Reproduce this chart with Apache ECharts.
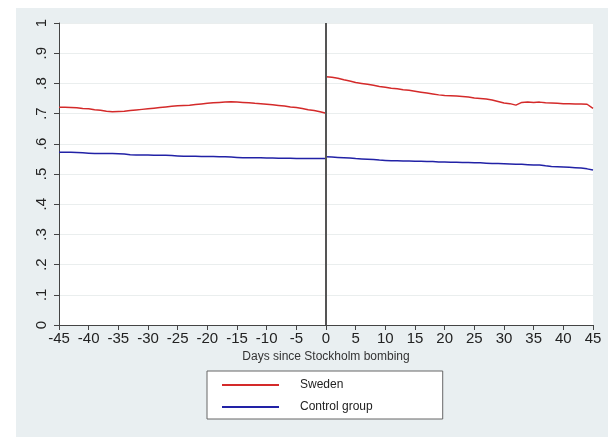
<!DOCTYPE html>
<html>
<head>
<meta charset="utf-8">
<script src="https://cdn.jsdelivr.net/npm/echarts@6/dist/echarts.min.js"></script>
<style>
  html, body { margin: 0; padding: 0; background: #ffffff; }
  #wrap { position: relative; width: 611px; height: 437px; overflow: hidden; background: #ffffff; }
  #panel { position: absolute; left: 16px; top: 8px; width: 592px; height: 429px; background: #e9eff1; }
  #chart { position: absolute; left: 0; top: 0; width: 611px; height: 437px; }
</style>
</head>
<body>
<div id="wrap">
  <div id="panel"></div>
  <div id="chart"></div>
</div>
<script>
// Days relative to the event
const daysPre = [-45,-44,-43,-42,-41,-40,-39,-38,-37,-36,-35,-34,-33,-32,-31,-30,-29,-28,-27,-26,-25,-24,-23,-22,-21,-20,-19,-18,-17,-16,-15,-14,-13,-12,-11,-10,-9,-8,-7,-6,-5,-4,-3,-2,-1,0];
const daysPost = [0,1,2,3,4,5,6,7,8,9,10,11,12,13,14,15,16,17,18,19,20,21,22,23,24,25,26,27,28,29,30,31,32,33,34,35,36,37,38,39,40,41,42,43,44,45];

// Sweden, before and after
const swedenPre = [0.721,0.721,0.720,0.719,0.717,0.716,0.713,0.711,0.708,0.706,0.707,0.708,0.710,0.712,0.714,0.716,0.718,0.720,0.722,0.724,0.726,0.727,0.728,0.730,0.732,0.734,0.736,0.737,0.738,0.739,0.738,0.737,0.736,0.734,0.733,0.731,0.729,0.727,0.725,0.722,0.720,0.717,0.713,0.710,0.706,0.701];
const swedenPost = [0.822,0.820,0.817,0.812,0.808,0.803,0.800,0.797,0.794,0.790,0.787,0.784,0.782,0.779,0.777,0.774,0.771,0.768,0.765,0.762,0.760,0.759,0.758,0.757,0.755,0.752,0.750,0.748,0.745,0.740,0.735,0.733,0.728,0.737,0.738,0.737,0.738,0.736,0.735,0.734,0.733,0.733,0.732,0.732,0.731,0.717];

// Control group, before and after
const controlPre = [0.572,0.572,0.572,0.571,0.570,0.569,0.568,0.568,0.568,0.568,0.567,0.566,0.564,0.563,0.563,0.563,0.562,0.562,0.562,0.561,0.560,0.559,0.559,0.559,0.558,0.558,0.558,0.557,0.557,0.556,0.555,0.554,0.554,0.554,0.554,0.553,0.553,0.552,0.552,0.552,0.551,0.551,0.551,0.551,0.551,0.551];
const controlPost = [0.557,0.556,0.555,0.554,0.553,0.551,0.550,0.549,0.548,0.546,0.545,0.544,0.544,0.543,0.543,0.542,0.542,0.541,0.541,0.540,0.540,0.539,0.539,0.538,0.538,0.537,0.537,0.536,0.535,0.535,0.534,0.533,0.532,0.532,0.531,0.530,0.530,0.527,0.525,0.524,0.523,0.522,0.521,0.520,0.517,0.513];

const xTicks = [-45,-40,-35,-30,-25,-20,-15,-10,-5,0,5,10,15,20,25,30,35,40,45];
const yTicks = [0,0.1,0.2,0.3,0.4,0.5,0.6,0.7,0.8,0.9,1];

const FONT = "'Liberation Sans', Arial, sans-serif";
const RED = '#d42a2a';
const BLUE = '#2222a6';

function pairs(xs, ys) { return xs.map((x, i) => [x, ys[i]]); }
function yLabel(v) {
  const r = Math.round(v * 10) / 10;
  if (r === 0) return '0';
  if (r === 1) return '1';
  return String(r).replace(/^0/, '');
}

function lineSeries(name, color, data, extra) {
  return Object.assign({
    name: name,
    type: 'line',
    data: data,
    showSymbol: false,
    symbol: 'none',
    lineStyle: { color: color, width: 1.5 },
    itemStyle: { color: color },
    animation: false,
    z: 3
  }, extra || {});
}

const chart = echarts.init(document.getElementById('chart'), null, { renderer: 'canvas' });
chart.setOption({
  backgroundColor: 'transparent',
  animation: false,
  textStyle: { fontFamily: FONT },
  grid: {
    left: 59, right: 18, top: 23, bottom: 112,
    show: true, backgroundColor: '#ffffff', borderWidth: 0
  },
  xAxis: {
    type: 'value',
    min: -45, max: 45, interval: 5,
    name: 'Days since Stockholm bombing',
    nameLocation: 'middle',
    nameGap: 26,
    nameTextStyle: { fontSize: 12, color: '#333', fontFamily: FONT },
    axisLine: { show: true, onZero: false, lineStyle: { color: '#444', width: 1 } },
    axisTick: { show: true, length: 5, lineStyle: { color: '#444' } },
    axisLabel: {
      fontSize: 15, color: '#222', margin: 6, fontFamily: FONT,
      formatter: v => xTicks.includes(v) ? String(v) : ''
    },
    splitLine: { show: false }
  },
  yAxis: {
    type: 'value',
    min: 0, max: 1, interval: 0.1,
    axisLine: { show: true, onZero: false, lineStyle: { color: '#444', width: 1 } },
    axisTick: { show: true, length: 5, lineStyle: { color: '#444' } },
    axisLabel: {
      fontSize: 15, color: '#222', rotate: 90, margin: 10, fontFamily: FONT,
      formatter: v => yTicks.some(t => Math.abs(t - v) < 1e-9) ? yLabel(v) : ''
    },
    splitLine: { show: true, lineStyle: { color: '#eaeeee', width: 1 } }
  },
  legend: {
    data: ['Sweden', 'Control group'],
    orient: 'vertical',
    left: 207, top: 371,
    padding: [8, 70, 6, 15],
    itemGap: 10,
    itemWidth: 57, itemHeight: 2,
    icon: 'rect',
    backgroundColor: '#ffffff',
    borderColor: '#666',
    borderWidth: 1,
    borderRadius: 0,
    selectedMode: false,
    textStyle: { fontSize: 12, color: '#222', fontFamily: FONT, padding: [0, 0, 0, 16] }
  },
  series: [
    lineSeries('Sweden', RED, pairs(daysPre, swedenPre), {
      markLine: {
        silent: true,
        symbol: 'none',
        label: { show: false },
        lineStyle: { color: '#555', width: 2, type: 'solid' },
        data: [{ xAxis: 0 }],
        animation: false
      }
    }),
    lineSeries('Sweden', RED, pairs(daysPost, swedenPost)),
    lineSeries('Control group', BLUE, pairs(daysPre, controlPre)),
    lineSeries('Control group', BLUE, pairs(daysPost, controlPost))
  ]
});
</script>
</body>
</html>
